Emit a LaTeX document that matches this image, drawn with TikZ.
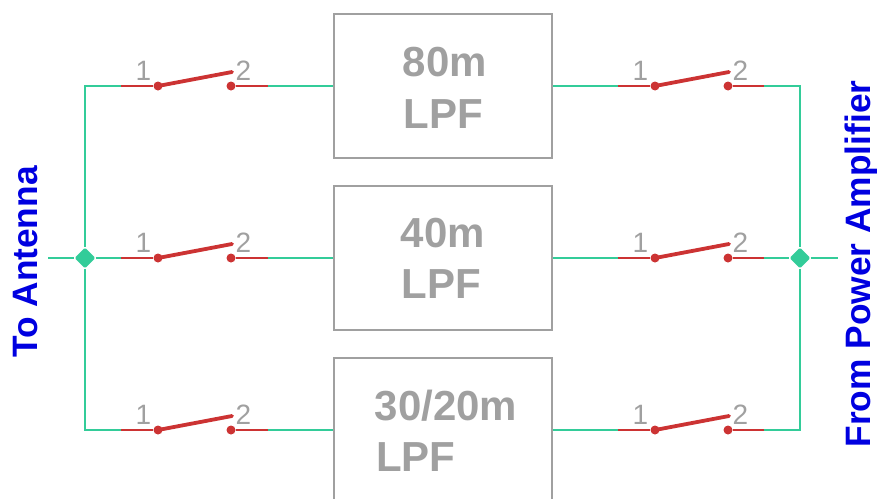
\documentclass[tikz,border=0pt]{standalone}
\usepackage{fontspec}
\setmainfont{Liberation Sans}
\usepackage{xcolor}
\definecolor{wiregreen}{HTML}{33CC99}
\definecolor{pinred}{HTML}{CC3333}
\definecolor{partgray}{HTML}{A0A0A0}
\definecolor{netblue}{HTML}{0000E0}
\tikzset{
	wire/.style={draw=wiregreen,line width=2pt},
	pin/.style={draw=pinred,line width=2pt},
	lever/.style={draw=pinred,line width=3.8pt,line cap=round},
	contact/.style={circle,fill=pinred,inner sep=0pt,minimum size=9pt},
	junction/.style={diamond,fill=wiregreen,inner sep=0pt,rounded corners=1.5pt,minimum size=21pt},
	filterbox/.style={draw=partgray,line width=2pt,minimum width=218pt,minimum height=144pt,inner sep=0pt},
	filtertext/.style={text=partgray,font=\fontsize{42}{42}\selectfont\bfseries,inner sep=0pt},
	pinnum/.style={text=partgray,font=\fontsize{28}{28}\selectfont,inner sep=0pt},
	netlabel/.style={text=netblue,font=\fontsize{35.3}{35.3}\selectfont\bfseries,inner sep=0pt,rotate=90}
}
\usetikzlibrary{shapes.geometric}
\begin{document}
\begin{tikzpicture}[x=1pt,y=-1pt]
	\useasboundingbox (0,0) rectangle (877,498);

	\node[filterbox] (F-a) at (443,86) {};
	\node[filterbox] (F-b) at (443,258) {};
	\node[filterbox] (F-c) at (443,430) {};

	\node[filtertext] (T-a1) at (444.7,62) {80m};
	\node[filtertext] (T-a2) at (443.3,114) {LPF};
	\node[filtertext] (T-b1) at (442.7,233) {40m};
	\node[filtertext] (T-b2) at (441.3,284) {LPF};
	\node[filtertext] (T-c1) at (446,406) {30/20m};
	\node[filtertext] (T-c2) at (415.8,457) {LPF};

	\node[netlabel] (ant) at (25.5,262) {To Antenna};
	\node[netlabel] (amp) at (861,264) {From Power Amplifier};

	\coordinate (L-end) at (48,258);
	\coordinate (R-end) at (838,258);
	\node[junction] (L-j) at (85,258) {};
	\node[junction] (R-j) at (800,258) {};

	\foreach \row/\yy in {a/86,b/258,c/430} {
		\foreach \side/\xx in {L/0,R/497} {
			\coordinate (\side-\row-in) at (121+\xx,\yy);
			\coordinate (\side-\row-out) at (268+\xx-\xx*0.002,\yy);
			\coordinate (\side-\row-tip) at (232+\xx,\yy-14);
			\node[contact] (\side-\row-1) at (158+\xx,\yy) {};
			\node[contact] (\side-\row-2) at (231+\xx,\yy) {};
			\node[pinnum] (\side-\row-n1) at (143.5+\xx,\yy-15.5) {1};
			\node[pinnum] (\side-\row-n2) at (243.5+\xx,\yy-15.5) {2};

			\draw[pin] (\side-\row-in) -- (\side-\row-1);
			\draw[pin] (\side-\row-2) -- (\side-\row-out);
			\draw[lever] (\side-\row-1.center) -- (\side-\row-tip);
		}
		\draw[wire] (L-\row-out) -- (F-\row.west);
		\draw[wire] (F-\row.east) -- (R-\row-in);
	}

	\draw[wire] (L-a-in) -| (L-j) |- (L-c-in);
	\draw[wire] (R-a-out) -| (R-j) |- (R-c-out);
	\draw[wire] (L-end) -- (L-j) -- (L-b-in);
	\draw[wire] (R-b-out) -- (R-j) -- (R-end);
\end{tikzpicture}
\end{document}
